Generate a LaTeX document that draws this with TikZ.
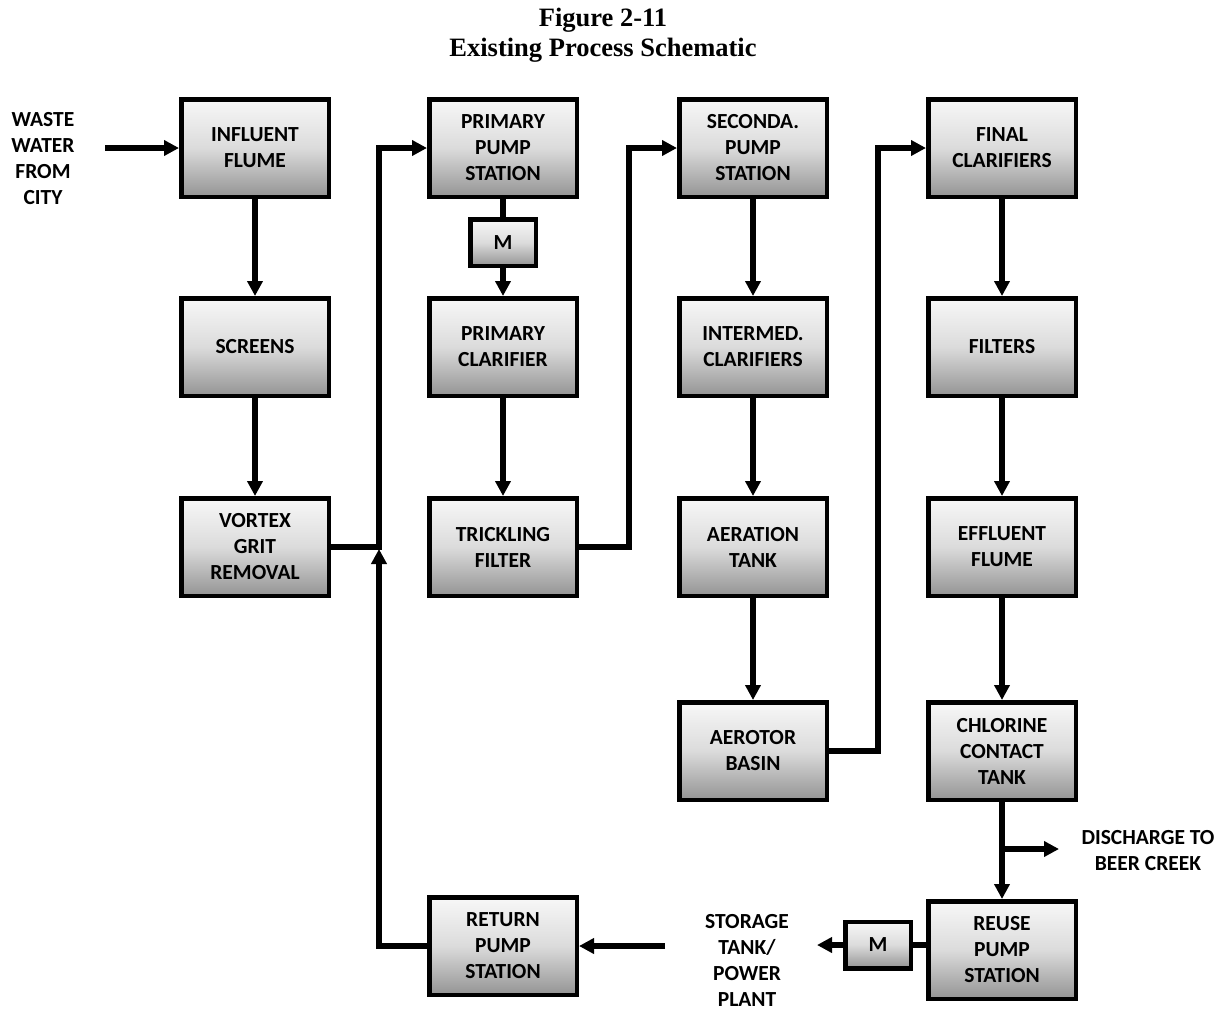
\documentclass[tikz,border=0pt]{standalone}
\usepackage{fontspec}
\setmainfont{Carlito}
\newfontfamily\titlefont{Liberation Serif}
\usetikzlibrary{arrows.meta,calc}
\newcommand\boxfont{\bfseries\fontsize{21.5}{26}\selectfont}
\newcommand\ttlfont{\titlefont\bfseries\fontsize{26.5}{29}\selectfont}
\tikzset{
  proc/.style={draw=black, line width=4.5pt, minimum width=147.5pt, minimum height=97.5pt,
    top color=black!3, bottom color=black!42, middle color=black!14,
    align=center, font=\boxfont, text=black, inner sep=0pt},
  motor/.style={proc, minimum width=65.5pt, minimum height=46.5pt},
  lbl/.style={align=center, font=\boxfont, text=black, inner sep=0pt},
  flow/.style={line width=5.5pt, -{Triangle[length=15pt,width=15pt]}},
  pipe/.style={line width=5.5pt},
  ttl/.style={font=\ttlfont, anchor=base, inner sep=0pt}
}
\begin{document}
\begin{tikzpicture}[x=1pt,y=-1pt]
\useasboundingbox (0,0) rectangle (1226,1010);
% title
\node[ttl] (t1) at (603,26) {Figure 2-11};
\node[ttl] (t2) at (603,56) {Existing Process Schematic};

% column 1
\node[proc] (influent) at (255,148) {INFLUENT\\FLUME};
\node[proc] (screens) at (255,347) {SCREENS};
\node[proc] (vortex) at (255,547) {VORTEX\\GRIT\\REMOVAL};
% column 2
\node[proc] (ppump) at (503,148) {PRIMARY\\PUMP\\STATION};
\node[motor] (m1) at (503,242.5) {M};
\node[proc] (pclar) at (503,347) {PRIMARY\\CLARIFIER};
\node[proc] (trick) at (503,547) {TRICKLING\\FILTER};
\node[proc] (rpump) at (503,946) {RETURN\\PUMP\\STATION};
% column 3
\node[proc] (spump) at (753,148) {SECONDA.\\PUMP\\STATION};
\node[proc] (iclar) at (753,347) {INTERMED.\\CLARIFIERS};
\node[proc] (aer) at (753,547) {AERATION\\TANK};
\node[proc] (aerotor) at (753,751) {AEROTOR\\BASIN};
% column 4
\node[proc] (fclar) at (1002,148) {FINAL\\CLARIFIERS};
\node[proc] (filters) at (1002,347) {FILTERS};
\node[proc] (eflume) at (1002,547) {EFFLUENT\\FLUME};
\node[proc] (chlor) at (1002,751) {CHLORINE\\CONTACT\\TANK};
\node[proc] (reuse) at (1002,950) {REUSE\\PUMP\\STATION};
\node[motor] (m2) at (878,945) {M};

% labels
\node[lbl] (ww) at (43,159) {WASTE\\WATER\\FROM\\CITY};
\node[lbl] (dis) at (1148,851) {DISCHARGE TO\\BEER CREEK};
\node[lbl] (stor) at (747,960) {STORAGE\\TANK/\\POWER\\PLANT};

% free ends
\coordinate (wwin) at (105,148);
\coordinate (jn) at (379,549);
\coordinate (stout) at (665,946);
\coordinate (br) at (1002,849);
\coordinate (disout) at (1059,849);
\coordinate (storin) at (817,945);

% connectors
\draw[flow] (wwin) -- (influent.west);
\draw[flow] (influent) -- (screens);
\draw[flow] (screens) -- (vortex);
\draw[flow] (vortex.east) -- ++(48,0) |- (ppump.west);
\draw[flow] (rpump.west) -| (jn);
\draw[flow] (stout) -- (rpump.east);
\draw[pipe] (ppump) -- (m1);
\draw[flow] (m1) -- (pclar);
\draw[flow] (pclar) -- (trick);
\draw[flow] (trick.east) -- ++(50,0) |- (spump.west);
\draw[flow] (spump) -- (iclar);
\draw[flow] (iclar) -- (aer);
\draw[flow] (aer) -- (aerotor);
\draw[flow] (aerotor.east) -- ++(49,0) |- (fclar.west);
\draw[flow] (fclar) -- (filters);
\draw[flow] (filters) -- (eflume);
\draw[flow] (eflume) -- (chlor);
\draw[flow] (chlor) -- (reuse);
\draw[flow] (br) -- (disout);
\draw[pipe] (m2.east) -- (m2.east -| reuse.west);
\draw[flow] (m2.west) -- (storin);
\end{tikzpicture}
\end{document}
